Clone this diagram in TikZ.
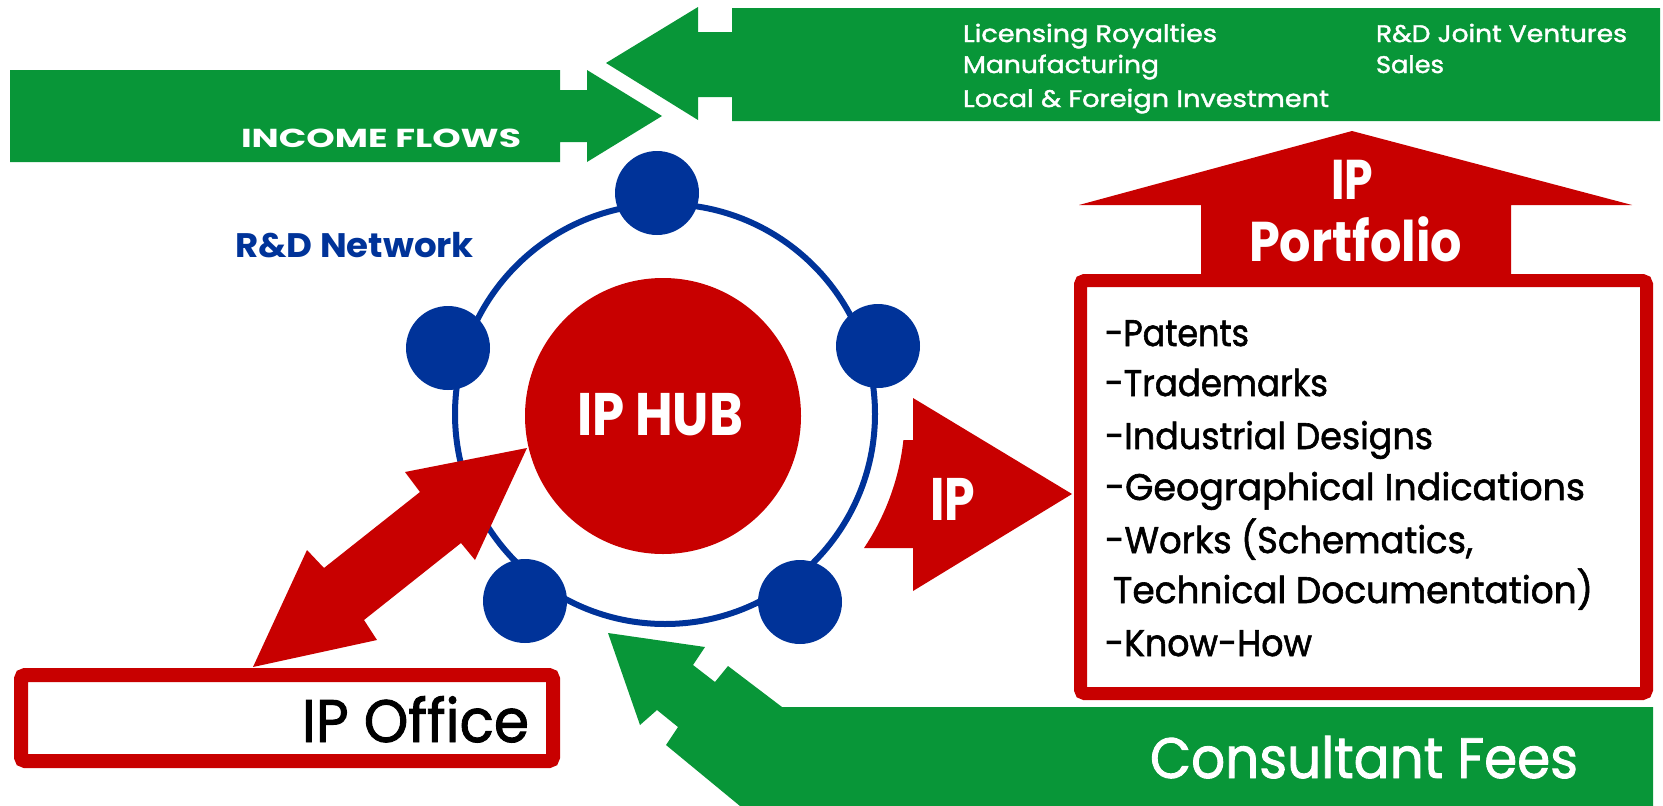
\documentclass[tikz,border=0pt]{standalone}
\usepackage{fontspec}
\setmainfont{Poppins}
\newfontfamily\popmed[FakeBold=1.6]{Poppins}
\usepackage{graphicx}
\definecolor{ipgreen}{RGB}{8,150,56}
\definecolor{ipred}{RGB}{200,0,0}
\definecolor{ipblue}{RGB}{0,51,153}
\newcommand\fitw[2]{\resizebox{#1pt}{\height}{#2}}
\newcommand\fsz[1]{\fontsize{#1}{#1}\selectfont}
\begin{document}
\begin{tikzpicture}[x=1pt,y=-1pt,
  txt/.style={inner sep=0pt, outer sep=0pt, anchor=base west},
  ctxt/.style={inner sep=0pt, outer sep=0pt, anchor=base},
  dot/.style={circle, fill=ipblue, minimum size=84pt, inner sep=0pt}]
\useasboundingbox (0,0) rectangle (1663,806);
% green income arrows
\fill[ipgreen] (10,70) -- (560,70) -- (560,90) -- (587,90) -- (587,70) -- (662,116) -- (587,162) -- (587,142) -- (560,142) -- (560,162) -- (10,162) -- cycle;
\fill[ipgreen] (606,63) -- (698,7) -- (698,32) -- (732,32) -- (732,8) -- (1660,8) -- (1660,121) -- (732,121) -- (732,97) -- (698,97) -- (698,120) -- cycle;
\fill[ipgreen] (608,633) -- (705,647) -- (693,665) -- (715,682) -- (728,666) -- (782,707) -- (1653,707) -- (1653,806) -- (740,806) -- (666,745) -- (678,727) -- (657,710) -- (640,725) -- cycle;
% R&D network ring
\draw[ipblue, line width=6pt] (665,414) circle[radius=210];
\node[dot] (d1) at (657,193) {};
\node[dot] (d2) at (448,348) {};
\node[dot] (d3) at (878,346) {};
\node[dot] (d4) at (525,601) {};
\node[dot] (d5) at (800,602) {};
% hub
\node[circle, fill=ipred, minimum size=276pt, inner sep=0pt] (hub) at (663,416) {};
\node[ctxt, text=white, font=\bfseries\fsz{60}] (hubtxt) at (660,435) {\fitw{166}{IP HUB}};
% double arrow hub <-> office
\fill[ipred] (527,448) -- (475,560) -- (461,543) -- (364,620) -- (377,640) -- (253,667) -- (307,550) -- (324,568) -- (420,492) -- (405,472) -- cycle;
% IP arrow
\fill[ipred] (864,548) arc[start angle=33.9, end angle=6.2, radius=240] -- (913,440) -- (913,398) -- (1072,494) -- (913,591) -- (913,548) -- cycle;
\node[ctxt, text=white, font=\bfseries\fsz{60}] (iptxt) at (952.5,520) {\fitw{45}{IP}};
% portfolio arrow and box
\fill[ipred] (1079,205) -- (1352,131) -- (1632,205) -- (1511,205) -- (1511,282) -- (1201,282) -- (1201,205) -- cycle;
\draw[ipred, line width=13pt, rounded corners=4pt, fill=white] (1080.5,280.5) rectangle (1646.5,693.5);
\node[ctxt, text=white, font=\bfseries\fsz{56}] (pf1) at (1352,199) {\fitw{42}{IP}};
\node[ctxt, text=white, font=\bfseries\fsz{56}] (pf2) at (1355.5,261) {\fitw{213}{Portfolio}};
\begin{scope}[every node/.style={txt, font=\popmed\fsz{37}}]
\node (l1) at (1105,346) {\fitw{144}{-Patents}};
\node (l2) at (1105,396) {\fitw{223}{-Trademarks}};
\node (l3) at (1105,449) {\fitw{328}{-Industrial Designs}};
\node (l4) at (1105,500) {\fitw{480}{-Geographical Indications}};
\node (l5) at (1105,553) {\fitw{368}{-Works (Schematics,}};
\node (l6) at (1113,603) {\fitw{480}{Technical Documentation)}};
\node (l7) at (1105,656) {\fitw{207}{-Know-How}};
\end{scope}
% IP office
\draw[ipred, line width=14pt, rounded corners=4pt] (21,675) rectangle (553,761);
\node[txt, font=\popmed\fsz{60}] (office) at (302,742) {\fitw{227}{IP Office}};
% green texts
\node[txt, text=white, font=\popmed\fsz{57}] (fees) at (1150,778) {\fitw{428}{Consultant Fees}};
\node[txt, text=white, font=\bfseries\fsz{26}] (income) at (241,147) {\fitw{280}{INCOME FLOWS}};
\begin{scope}[every node/.style={txt, text=white, font=\popmed\fsz{24}}]
\node (g1) at (963,42) {\fitw{254}{Licensing Royalties}};
\node (g2) at (963,73) {\fitw{196}{Manufacturing}};
\node (g3) at (963,107) {\fitw{366}{Local \& Foreign Investment}};
\node (g4) at (1376,42) {\fitw{251}{R\&D Joint Ventures}};
\node (g5) at (1376,73) {\fitw{68}{Sales}};
\end{scope}
\node[txt, text=ipblue, font=\bfseries\fsz{34}] (rdn) at (235,257) {\fitw{239}{R\&D Network}};
\end{tikzpicture}
\end{document}
